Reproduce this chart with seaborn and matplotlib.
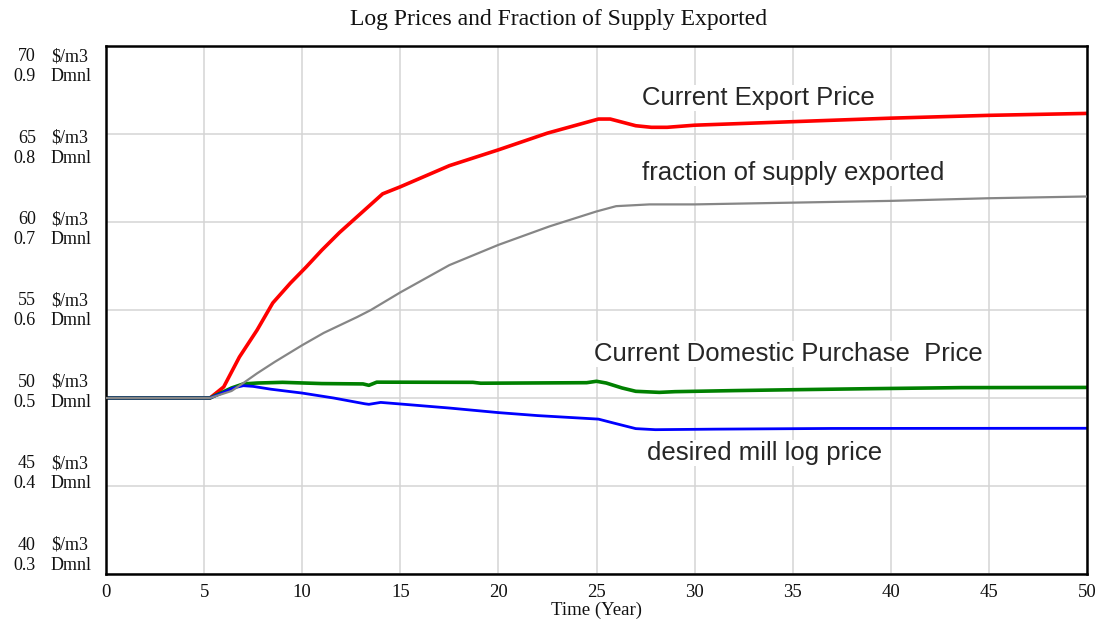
import numpy as np
import pandas as pd
import matplotlib
matplotlib.use("Agg")
import matplotlib.pyplot as plt
import seaborn as sns

# Data (Time in years)
export_t = [0, 5.3, 6, 6.8, 7.7, 8.5, 9.4, 10.2, 11, 11.9, 12.8, 13.6, 14.1, 15,
            17.5, 20, 22.5, 25.1, 25.7, 27, 27.8, 28.6, 30, 35, 40, 45, 50]
export_price = [50, 50, 50.63, 52.33, 53.86, 55.4, 56.53, 57.44, 58.4, 59.4, 60.3, 61.1, 61.6, 62.0,
                63.2, 64.1, 65.05, 65.85, 65.85, 65.47, 65.38, 65.38, 65.5, 65.7, 65.9, 66.06, 66.17]

frac_t = [0, 5.3, 6.4, 7, 7.7, 8.6, 10, 11.1, 12.8, 13.5, 15, 17.5, 20, 22.6, 25, 26, 27.7,
          30, 35, 40, 45, 50]
frac_exported = [0.5, 0.5, 0.508, 0.517, 0.528, 0.541, 0.560, 0.574, 0.592, 0.600, 0.620, 0.651,
                 0.674, 0.695, 0.712, 0.718, 0.720, 0.720, 0.722, 0.724, 0.727, 0.729]

domestic_t = [0, 5.3, 6.4, 7, 7.7, 9, 11, 13.1, 13.4, 13.8, 18.7, 19.1, 24.5, 25, 25.5, 26.3,
              27, 28.2, 29, 32, 35, 39, 43.6, 50]
domestic_price = [50, 50, 50.57, 50.8, 50.85, 50.89, 50.82, 50.8, 50.72, 50.9, 50.89, 50.84, 50.87,
                  50.95, 50.85, 50.57, 50.38, 50.32, 50.36, 50.42, 50.47, 50.53, 50.59, 50.6]

mill_t = [0, 5.3, 6, 6.5, 7, 7.5, 8.4, 10, 11.6, 13.2, 13.4, 14, 15, 17.5, 20, 22, 25.1, 25.9,
          27, 28, 31, 37, 50]
mill_price = [50, 50, 50.32, 50.57, 50.7, 50.66, 50.5, 50.28, 50, 49.67, 49.64, 49.75, 49.66,
              49.43, 49.17, 49.0, 48.8, 48.57, 48.26, 48.2, 48.23, 48.27, 48.28]

price_ticks = [70, 65, 60, 55, 50, 45, 40]
frac_ticks = ["0.9", "0.8", "0.7", "0.6", "0.5", "0.4", "0.3"]
x_ticks = list(range(0, 51, 5))

sns.set_style("white")
serif = ["Liberation Serif", "DejaVu Serif"]
sans = ["Liberation Sans", "DejaVu Sans"]

fig = plt.figure(figsize=(10.98, 6.21), dpi=100)
ax = fig.add_axes([106 / 1098, 1 - 574 / 621, (1087 - 106) / 1098, (574 - 46) / 621])

sns.lineplot(x=export_t, y=export_price, color="#ff0000", linewidth=2.6, ax=ax)
sns.lineplot(x=domestic_t, y=domestic_price, color="#008000", linewidth=2.6, ax=ax)
sns.lineplot(x=mill_t, y=mill_price, color="#0000ff", linewidth=2.0, ax=ax)

ax.set_xlim(0, 50)
ax.set_ylim(40, 70)
ax.set_xticks(x_ticks)
ax.set_yticks(price_ticks)
ax.set_yticklabels([])
ax.grid(True, color="#d4d4d4", linewidth=1.1)
ax.tick_params(length=0, labelsize=13.5, pad=7, labelcolor="#111111")
for lab in ax.get_xticklabels():
    lab.set_fontfamily(serif)
ax.set_xlabel("Time (Year)", fontsize=13.5, family=serif, labelpad=1, color="#111111")
ax.set_ylabel("")
for s in ax.spines.values():
    s.set_color("black")
    s.set_linewidth(1.8)

# fraction on its own (Dmnl) scale sharing the same frame
ax2 = ax.twinx()
sns.lineplot(x=frac_t, y=frac_exported, color="#868686", linewidth=1.6, ax=ax2)
ax2.set_ylim(0.3, 0.9)
ax2.set_yticks([])
ax2.set_ylabel("")
for s in ax2.spines.values():
    s.set_visible(False)

# stacked two-unit axis labels
for i, (p, f) in enumerate(zip(price_ticks, frac_ticks)):
    yp = 56.7 + i * 81.4
    kw = dict(va="center", fontsize=13, family=serif, color="#111111")
    fig.text(36 / 1098, 1 - yp / 621, str(p), ha="right", **kw)
    fig.text(51 / 1098, 1 - yp / 621, "$/m3", ha="left", **kw)
    fig.text(36 / 1098, 1 - (yp + 20) / 621, f, ha="right", **kw)
    fig.text(51 / 1098, 1 - (yp + 20) / 621, "Dmnl", ha="left", **kw)

fig.text(559 / 1098, 1 - 20 / 621, "Log Prices and Fraction of Supply Exported",
         ha="center", va="center", fontsize=17, family=serif, color="#111111")

box = dict(facecolor="white", edgecolor="none", pad=1)
ax.text(27.3, 67.05, "Current Export Price", fontsize=18.5, family=sans, va="center", bbox=box, zorder=5)
ax.text(27.3, 62.78, "fraction of supply exported", fontsize=18.5, family=sans, va="center", bbox=box, zorder=5)
ax.text(24.87, 52.5, "Current Domestic Purchase  Price", fontsize=18.5, family=sans, va="center", bbox=box, zorder=5)
ax.text(27.57, 46.88, "desired mill log price", fontsize=18.5, family=sans, va="center", bbox=box, zorder=5)

fig.savefig("out.png", dpi=100)
